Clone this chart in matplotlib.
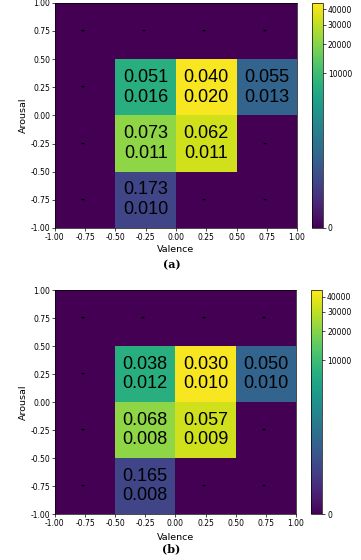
import numpy as np
import matplotlib.pyplot as plt
from matplotlib.colors import PowerNorm

# bin edges for valence / arousal
edges = [-1.0, -0.5, 0.0, 0.5, 1.0]
centers = [-0.75, -0.25, 0.25, 0.75]

# counts per cell, rows = arousal (bottom to top), cols = valence (left to right)
counts = np.array([
    [0, 80, 0, 0],
    [0, 21300, 33600, 0],
    [0, 7100, 43500, 470],
    [0, 0, 0, 0],
])

# text in cells (mean / std), same layout as counts, '' = empty cell
txt_a = [
    ['', '0.173\n0.010', '', ''],
    ['', '0.073\n0.011', '0.062\n0.011', ''],
    ['', '0.051\n0.016', '0.040\n0.020', '0.055\n0.013'],
    ['', '', '', ''],
]
txt_b = [
    ['', '0.165\n0.008', '', ''],
    ['', '0.068\n0.008', '0.057\n0.009', ''],
    ['', '0.038\n0.012', '0.030\n0.010', '0.050\n0.010'],
    ['', '', '', ''],
]
cbar_ticks = [0, 10000, 20000, 30000, 40000]
tick_vals = [-1.0, -0.75, -0.5, -0.25, 0.0, 0.25, 0.5, 0.75, 1.0]

fig = plt.figure(figsize=(3.61, 5.6), dpi=100)
norm = PowerNorm(gamma=0.25, vmin=0, vmax=45000)


def panel(ax_rect, cb_rect, texts, label, label_y, xl_y):
    ax = fig.add_axes(ax_rect)
    m = ax.pcolormesh(edges, edges, counts, cmap='viridis', norm=norm)
    for i, yc in enumerate(centers):
        for j, xc in enumerate(centers):
            t = texts[i][j]
            if t:
                ax.text(xc, yc, t, ha='center', va='center', fontsize=13,
                        family='Liberation Sans', color='black',
                        linespacing=1.2)
            else:
                ax.text(xc - 0.02, yc, '-', ha='center', va='center',
                        fontsize=7, fontweight='bold', color='black')
    ax.set_xlim(-1, 1)
    ax.set_ylim(-1, 1)
    ax.set_xticks(tick_vals)
    ax.set_yticks(tick_vals)
    ax.set_xticklabels(['%.2f' % v for v in tick_vals])
    ax.set_yticklabels(['%.2f' % v for v in tick_vals])
    ax.tick_params(labelsize=5.5, length=2, width=0.5, pad=1.5)
    ax.set_ylabel('Arousal', fontsize=6.8, labelpad=2)
    for s in ax.spines.values():
        s.set_linewidth(0.5)
    cax = fig.add_axes(cb_rect)
    cb = fig.colorbar(m, cax=cax, ticks=cbar_ticks)
    cb.ax.tick_params(labelsize=5.5, length=2, width=0.5, pad=1.5)
    cb.outline.set_linewidth(0.5)
    fig.text(0.485, xl_y, 'Valence', ha='center', va='center', fontsize=6.8)
    fig.text(0.475, label_y, label, ha='center', va='center', fontsize=8,
             fontweight='bold', family='DejaVu Serif')


panel([0.152, 0.593, 0.671, 0.402], [0.864, 0.593, 0.0305, 0.402],
      txt_a, '(a)', 1 - 265 / 560, 1 - 249 / 560)
panel([0.152, 0.082, 0.668, 0.400], [0.862, 0.082, 0.0305, 0.400],
      txt_b, '(b)', 1 - 549 / 560, 1 - 537 / 560)

plt.savefig('out.png', dpi=100)
